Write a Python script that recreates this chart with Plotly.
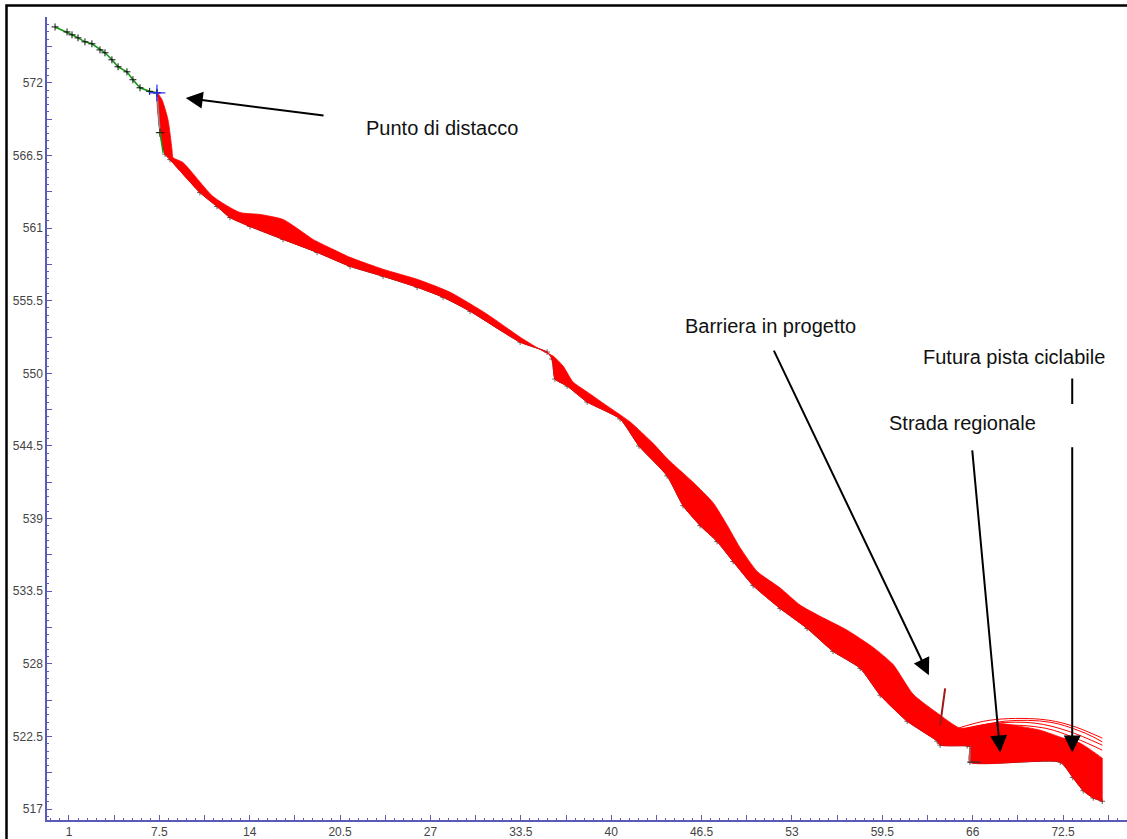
import plotly.graph_objects as go

# ---- slope above the release point (green profile) ----
slope_x = [0.0, 0.86, 1.22, 1.65, 2.15, 2.65, 3.23, 3.59, 4.09, 4.53, 5.17, 5.60, 6.11, 6.80, 7.33]
slope_y = [576.23, 575.85, 575.63, 575.40, 575.10, 574.95, 574.49, 574.27, 573.74, 573.21,
           572.83, 572.23, 571.62, 571.35, 571.24]

# ---- ground profile below the release point ----
ground_x = [7.33, 7.55, 7.91, 8.27, 10.42, 11.65, 12.58, 14.02, 16.40, 18.84, 21.22, 23.59,
            26.04, 27.91, 29.85, 33.45, 35.39, 35.75, 35.96, 36.83, 38.27, 40.64, 42.00,
            44.02, 45.17, 46.40, 47.62, 48.77, 50.21, 52.15, 54.09, 55.96, 57.91, 59.35,
            61.29, 63.45, 63.66, 65.60, 65.80, 65.80, 72.30, 73.20, 73.95, 74.67, 75.32]
ground_y = [571.24, 568.22, 566.60, 566.18, 563.69, 562.63, 561.80, 561.12, 560.14, 559.16,
            558.10, 557.35, 556.52, 555.76, 554.70, 552.36, 551.61, 551.08, 549.57, 549.04,
            547.83, 546.55, 544.50, 542.24, 539.98, 538.47, 537.26, 535.75, 533.93, 532.20,
            530.69, 528.95, 527.67, 525.63, 523.66, 522.15, 521.85, 521.80, 521.75, 520.56,
            520.56, 519.40, 518.40, 517.85, 517.60]

# ---- upper envelope of the simulated trajectories ----
envelope_x = [7.33, 7.69, 8.12, 8.41, 8.48, 9.20, 11.36, 13.30, 14.74, 16.40, 17.83, 18.55,
              19.99, 21.22, 23.59, 26.04, 28.41, 31.07, 33.45, 35.10, 35.82, 36.54, 37.26,
              38.27, 39.71, 41.36, 43.01, 44.02, 45.89, 47.33, 48.34, 49.27, 50.50, 52.15,
              53.59, 55.03, 56.97, 58.84, 60.28, 61.72, 63.66, 65.10, 66.54, 67.76, 68.91,
              70.86, 72.51, 73.73, 75.32]
envelope_y = [571.24, 570.72, 569.21, 566.94, 566.34, 565.96, 563.39, 562.18, 562.03, 561.65,
              560.67, 560.14, 559.39, 558.78, 557.88, 557.12, 556.14, 554.48, 552.74, 551.68,
              551.31, 550.55, 549.34, 548.59, 547.53, 546.32, 544.70, 543.55, 541.75, 540.20,
              538.50, 536.80, 535.00, 533.75, 532.45, 531.60, 530.55, 529.25, 527.95, 525.70,
              524.12, 523.13, 523.36, 523.51, 523.36, 522.98, 522.38, 522.00, 520.87]

# ---- single high trajectories over the road / cycle path ----
traj_a_x = [64.74, 67.26, 70.86, 73.01, 75.32]
traj_a_y = [523.06, 523.74, 523.81, 523.36, 522.38]
traj_b_x = [64.96, 67.62, 70.50, 72.87, 75.32]
traj_b_y = [522.98, 523.51, 523.51, 522.91, 521.85]
traj_c_x = [65.10, 67.98, 71.22, 73.37, 75.32]
traj_c_y = [522.91, 523.36, 523.13, 522.38, 521.47]
traj_d_x = [65.25, 68.30, 71.58, 74.10, 75.32]
traj_d_y = [522.98, 523.66, 523.58, 522.75, 522.10]

# ---- cliff, road and barrier ----
cliff_x = [7.33, 7.55]
cliff_y = [571.24, 568.22]
cliff_foot_x = [7.55, 7.77]
cliff_foot_y = [568.22, 566.70]
road_edge_x = [65.80, 65.80]
road_edge_y = [521.75, 520.56]
road_x = [65.65, 66.55]
road_y = [520.56, 520.56]
barrier_x = [63.66, 64.02]
barrier_y = [523.36, 526.15]
release_x = [7.33]
release_y = [571.24]

# ---- axis ticks ----
x_tick_values = [1, 4.25, 7.5, 10.75, 14, 17.25, 20.5, 23.75, 27, 30.25, 33.5, 36.75, 40,
                 43.25, 46.5, 49.75, 53, 56.25, 59.5, 62.75, 66, 69.25, 72.5, 75.75]
x_tick_labels = ["1", "", "7.5", "", "14", "", "20.5", "", "27", "", "33.5", "", "40", "",
                 "46.5", "", "53", "", "59.5", "", "66", "", "72.5", ""]
y_tick_values = [517, 519.75, 522.5, 525.25, 528, 530.75, 533.5, 536.25, 539, 541.75, 544.5,
                 547.25, 550, 552.75, 555.5, 558.25, 561, 563.75, 566.5, 569.25, 572, 574.75]
y_tick_labels = ["517", "", "522.5", "", "528", "", "533.5", "", "539", "", "544.5", "",
                 "550", "", "555.5", "", "561", "", "566.5", "", "572", ""]

AXIS_BLUE = "#5a5ab8"
RED = "#ff0000"

fig = go.Figure()

# ground line with vertex marks (mostly covered by the trajectory bundle)
fig.add_trace(go.Scatter(
    x=ground_x, y=ground_y, mode="lines+markers",
    line=dict(color="#333333", width=1, shape="spline", smoothing=0.5),
    marker=dict(symbol="cross-thin", size=4, line=dict(color="#333333", width=0.8)),
    hoverinfo="skip"))

# trajectory bundle: upper envelope, then back along the ground;
# the end points are repeated so the smoothed outline keeps a square end
band_x = envelope_x + [envelope_x[-1]] + [ground_x[-1]] + ground_x[::-1]
band_y = envelope_y + [envelope_y[-1]] + [ground_y[-1]] + ground_y[::-1]
fig.add_trace(go.Scatter(
    x=band_x, y=band_y,
    mode="lines", fill="toself", fillcolor=RED,
    line=dict(color=RED, width=0.8, shape="spline", smoothing=0.6), hoverinfo="skip"))

for tx, ty in [(traj_a_x, traj_a_y), (traj_b_x, traj_b_y),
               (traj_c_x, traj_c_y), (traj_d_x, traj_d_y)]:
    fig.add_trace(go.Scatter(x=tx, y=ty, mode="lines", line=dict(color=RED, width=1, shape="spline"),
                             hoverinfo="skip"))

# upper slope
fig.add_trace(go.Scatter(
    x=slope_x, y=slope_y, mode="lines+markers",
    line=dict(color="#169a16", width=1.6),
    marker=dict(symbol="cross-thin", size=5, line=dict(color="#111111", width=1)),
    hoverinfo="skip"))

# cliff face
fig.add_trace(go.Scatter(x=cliff_x, y=cliff_y, mode="lines+markers",
                         line=dict(color="#8a8a8a", width=1.5),
                         marker=dict(symbol="cross-thin", size=6, line=dict(color="#111111", width=1)),
                         hoverinfo="skip"))
fig.add_trace(go.Scatter(x=cliff_foot_x, y=cliff_foot_y, mode="lines",
                         line=dict(color="#169a16", width=1.5), hoverinfo="skip"))

# road cut
fig.add_trace(go.Scatter(x=road_edge_x, y=road_edge_y, mode="lines",
                         line=dict(color="#8a8a8a", width=1.2), hoverinfo="skip"))
fig.add_trace(go.Scatter(x=road_x, y=road_y, mode="lines",
                         line=dict(color="#333333", width=1.2), hoverinfo="skip"))

# barrier
fig.add_trace(go.Scatter(x=barrier_x, y=barrier_y, mode="lines",
                         line=dict(color="#a01818", width=2), hoverinfo="skip"))

# release point
fig.add_trace(go.Scatter(x=release_x, y=release_y, mode="markers",
                         marker=dict(symbol="cross-thin", size=12,
                                     line=dict(color="#3030ff", width=1.2)),
                         hoverinfo="skip"))

LABEL_FONT = dict(family="Liberation Sans, Arial, sans-serif", size=20, color="#111111")

def label(text, x, y):
    return dict(x=x, y=y, xref="x", yref="y", text=text, showarrow=False,
                xanchor="center", yanchor="middle", font=LABEL_FONT)

def arrow(x_tail, y_tail, x_tip, y_tip, head=2):
    return dict(x=x_tip, y=y_tip, ax=x_tail, ay=y_tail, xref="x", yref="y",
                axref="x", ayref="y", text="", showarrow=True, arrowhead=head,
                arrowsize=1.7, arrowwidth=2, arrowcolor="#000000", standoff=0)

annotations = [
    label("Punto di distacco", 27.83, 568.60),
    arrow(19.42, 569.50, 9.40, 570.85),
    label("Barriera in progetto", 51.43, 553.57),
    arrow(51.65, 551.83, 62.85, 527.14),
    label("Futura pista ciclabile", 68.95, 551.23),
    arrow(73.16, 549.72, 73.16, 547.68, head=0),
    arrow(73.16, 544.51, 73.16, 521.30),
    label("Strada regionale", 65.24, 546.24),
    arrow(65.96, 544.28, 67.98, 521.30),
]

tick_font = dict(family="Liberation Sans, Arial, sans-serif", size=12, color="#444444")

fig.update_layout(
    width=1127, height=839,
    margin=dict(l=47, r=0, t=17, b=17),
    paper_bgcolor="white", plot_bgcolor="white",
    showlegend=False,
    annotations=annotations,
    shapes=[dict(type="rect", xref="paper", yref="paper",
                 x0=-0.0375, x1=1.2, y0=-0.2, y1=1.0143,
                 line=dict(color="#000000", width=2.5))],
    xaxis=dict(range=[-0.58, 77.1], showline=True, linecolor=AXIS_BLUE, linewidth=1.5,
               ticks="inside", ticklen=5, tickwidth=1.2, tickcolor=AXIS_BLUE,
               tickmode="array", tickvals=x_tick_values, ticktext=x_tick_labels,
               tickfont=tick_font, showgrid=False, zeroline=False,
               minor=dict(ticks="inside", ticklen=2, tickwidth=1, tickcolor=AXIS_BLUE,
                          tick0=1, dtick=0.65, showgrid=False)),
    yaxis=dict(range=[516.18, 576.98], showline=True, linecolor=AXIS_BLUE, linewidth=1.5,
               ticks="inside", ticklen=5, tickwidth=1.2, tickcolor=AXIS_BLUE,
               tickmode="array", tickvals=y_tick_values, ticktext=y_tick_labels,
               tickfont=tick_font, showgrid=False, zeroline=False,
               minor=dict(ticks="inside", ticklen=2, tickwidth=1, tickcolor=AXIS_BLUE,
                          tick0=517, dtick=0.55, showgrid=False)),
)

fig.write_html("out.html")
